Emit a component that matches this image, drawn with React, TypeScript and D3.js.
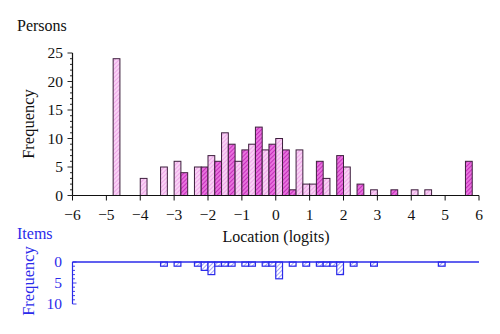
import React from "react";
import * as d3 from "d3";

// Persons histogram: bin start (logits), count, shade (P = pale, D = dark)
const personBinStarts = [-4.8, -4.0, -3.4, -3.0, -2.8, -2.4, -2.2, -2.0, -1.8, -1.6, -1.4, -1.2, -1.0, -0.8, -0.6, -0.4, -0.2, 0.0, 0.2, 0.4, 0.6, 0.8, 1.0, 1.2, 1.4, 1.8, 2.0, 2.4, 2.8, 3.4, 4.0, 4.4, 5.6];
const personCounts = [24, 3, 5, 6, 4, 5, 5, 7, 6, 11, 9, 6, 8, 9, 12, 8, 9, 10, 8, 1, 8, 2, 2, 6, 3, 7, 5, 2, 1, 1, 1, 1, 6];
const personShades = ["P", "P", "P", "P", "D", "P", "D", "P", "D", "P", "D", "P", "D", "P", "D", "P", "D", "P", "D", "D", "P", "P", "P", "D", "P", "D", "P", "D", "P", "D", "P", "P", "D"];

// Items histogram
const itemBinStarts = [-3.4, -3.0, -2.4, -2.2, -2.0, -1.8, -1.6, -1.4, -1.0, -0.8, -0.4, -0.2, 0.0, 0.4, 0.8, 1.2, 1.4, 1.6, 1.8, 2.2, 2.8, 4.8];
const itemCounts = [1, 1, 1, 2, 3, 1, 1, 1, 1, 1, 1, 1, 4, 1, 1, 1, 1, 1, 3, 1, 1, 1];

const binWidth = 0.2;
const xTicks = [-6, -5, -4, -3, -2, -1, 0, 1, 2, 3, 4, 5, 6];
const personYTicks = [0, 5, 10, 15, 20, 25];
const itemYTicks = [0, 5, 10];

const FONT = "'Liberation Serif', 'DejaVu Serif', serif";
const BLUE = "#2b2bea";
const FS = 15.5;

export default function App() {
  const x = d3.scaleLinear().domain([-6, 6]).range([72.5, 479]);
  const yP = d3.scaleLinear().domain([0, 25]).range([195.5, 53]);
  const yI = d3.scaleLinear().domain([0, 10]).range([262, 304]);
  const minorP = d3.range(0, 26);
  const minorI = d3.range(0, 11);
  const fmt = (v: number) => (v < 0 ? "\u2212" + Math.abs(v) : String(v));

  return (
    <svg width={500} height={334} style={{ position: "absolute", left: 0, top: 0, background: "#fff" }}>
      <defs>
        <pattern id="pale" patternUnits="userSpaceOnUse" width={3} height={3} patternTransform="rotate(45)">
          <rect width={3} height={3} fill="#f9d2f5" />
          <line x1={0} y1={0} x2={0} y2={3} stroke="#e98be2" strokeWidth={1.2} />
        </pattern>
        <pattern id="dark" patternUnits="userSpaceOnUse" width={3} height={3} patternTransform="rotate(45)">
          <rect width={3} height={3} fill="#e872de" />
          <line x1={0} y1={0} x2={0} y2={3} stroke="#b814ac" strokeWidth={1.4} />
        </pattern>
        <pattern id="blue" patternUnits="userSpaceOnUse" width={3} height={3} patternTransform="rotate(45)">
          <rect width={3} height={3} fill="#fff" />
          <line x1={0} y1={0} x2={0} y2={3} stroke="#5a5af0" strokeWidth={1.1} />
        </pattern>
      </defs>

      {/* Titles */}
      <text x={17} y={31} fontFamily={FONT} fontSize={16} fill="#111">Persons</text>
      <text x={17} y={239} fontFamily={FONT} fontSize={16} fill={BLUE}>Items</text>
      <text transform="translate(34,124) rotate(-90)" textAnchor="middle" fontFamily={FONT} fontSize={16.5} fill="#111">Frequency</text>
      <text transform="translate(34,281) rotate(-90)" textAnchor="middle" fontFamily={FONT} fontSize={16.5} fill={BLUE}>Frequency</text>
      <text x={276} y={242} textAnchor="middle" fontFamily={FONT} fontSize={16} fill="#111">Location (logits)</text>

      {/* Persons bars */}
      {personBinStarts.map((s, i) => (
        <rect
          key={"p" + i}
          x={x(s)}
          y={yP(personCounts[i])}
          width={x(s + binWidth) - x(s)}
          height={yP(0) - yP(personCounts[i])}
          fill={personShades[i] === "P" ? "url(#pale)" : "url(#dark)"}
          stroke="#3d1f3d"
          strokeWidth={1}
        />
      ))}

      {/* Persons axes */}
      <line x1={x(-6)} x2={x(6)} y1={yP(0)} y2={yP(0)} stroke="#111" strokeWidth={1.2} />
      <line x1={x(-6)} x2={x(-6)} y1={yP(0)} y2={yP(25)} stroke="#111" strokeWidth={1.2} />
      {xTicks.map((t) => (
        <g key={"xt" + t}>
          <line x1={x(t)} x2={x(t)} y1={yP(0)} y2={yP(0) + 5} stroke="#111" strokeWidth={1} />
          <text x={x(t)} y={220} textAnchor="middle" fontFamily={FONT} fontSize={FS} fill="#111">{fmt(t)}</text>
        </g>
      ))}
      {minorP.map((t) => (
        <line key={"mp" + t} x1={x(-6) - (t % 5 === 0 ? 5 : 2.5)} x2={x(-6)} y1={yP(t)} y2={yP(t)} stroke="#111" strokeWidth={0.9} />
      ))}
      {personYTicks.map((t) => (
        <text key={"yt" + t} x={63} y={yP(t) + 5} textAnchor="end" fontFamily={FONT} fontSize={FS} fill="#111">{t}</text>
      ))}

      {/* Items bars */}
      {itemBinStarts.map((s, i) => (
        <rect
          key={"it" + i}
          x={x(s)}
          y={yI(0)}
          width={x(s + binWidth) - x(s)}
          height={yI(itemCounts[i]) - yI(0)}
          fill="url(#blue)"
          stroke={BLUE}
          strokeWidth={1.2}
        />
      ))}

      {/* Items axes */}
      <line x1={x(-6)} x2={x(6)} y1={yI(0)} y2={yI(0)} stroke={BLUE} strokeWidth={1.5} />
      <line x1={x(-6)} x2={x(-6)} y1={yI(0)} y2={yI(10)} stroke={BLUE} strokeWidth={1.2} />
      {minorI.map((t) => (
        <line key={"mi" + t} x1={x(-6)} x2={x(-6) + (t % 5 === 0 ? 4 : 2.5)} y1={yI(t)} y2={yI(t)} stroke={BLUE} strokeWidth={0.9} />
      ))}
      {itemYTicks.map((t) => (
        <text key={"iy" + t} x={62} y={yI(t) + 5} textAnchor="end" fontFamily={FONT} fontSize={FS} fill={BLUE}>{t}</text>
      ))}
    </svg>
  );
}
